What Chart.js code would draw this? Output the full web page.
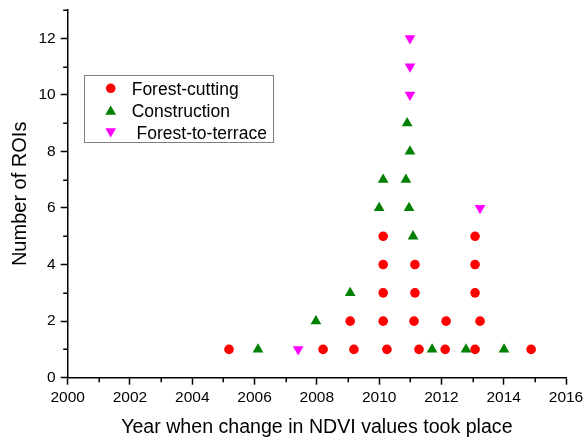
<!DOCTYPE html>
<html>
<head>
<meta charset="utf-8">
<script src="https://cdn.jsdelivr.net/npm/chart.js@4/dist/chart.umd.min.js"></script>
<style>
  html, body { margin: 0; padding: 0; background: #fff; }
  canvas { display: block; }
</style>
</head>
<body>
<canvas id="chart" width="584" height="441"></canvas>
<script>
// Year in which the NDVI change was detected, and how many ROIs it applies to
const forestCuttingYears  = [2005.18, 2008.20, 2009.19, 2010.25, 2011.28, 2012.12, 2013.08, 2014.88,
                             2009.07, 2010.13, 2011.12, 2012.15, 2013.24,
                             2010.13, 2011.15, 2013.08,
                             2010.13, 2011.15, 2013.08,
                             2010.13, 2013.08];
const forestCuttingCounts = [1, 1, 1, 1, 1, 1, 1, 1,
                             2, 2, 2, 2, 2,
                             3, 3, 3,
                             4, 4, 4,
                             5, 5];

const constructionYears  = [2006.11, 2011.70, 2012.79, 2014.01, 2007.97, 2009.07, 2011.09,
                            2010.00, 2010.96, 2010.13, 2010.86, 2010.99, 2010.90];
const constructionCounts = [1, 1, 1, 1, 2, 3, 5, 6, 6, 7, 7, 8, 9];

const terraceYears  = [2007.40, 2013.24, 2010.99, 2010.99, 2010.99];
const terraceCounts = [1, 6, 10, 11, 12];

const seriesLabels = ['Forest-cutting', 'Construction', ' Forest-to-terrace'];
const xAxisTitle = 'Year when change in NDVI values took place';
const yAxisTitle = 'Number of ROIs';

const FONT = "'Liberation Sans', Arial, sans-serif";

const toPoints = (xs, ys) => xs.map((x, i) => ({ x, y: ys[i] }));

// Short unlabelled ticks at the odd values of both axes
const minorTicks = {
  id: 'minorTicks',
  afterDraw(chart) {
    const { ctx, scales: { x, y } } = chart;
    ctx.save();
    ctx.strokeStyle = '#000';
    ctx.lineWidth = 1.5;
    ctx.beginPath();
    for (let v = x.min + 1; v < x.max; v += 2) {
      const px = Math.round(x.getPixelForValue(v)) + 0.25;
      ctx.moveTo(px, x.top);
      ctx.lineTo(px, x.top + 4.5);
    }
    for (let v = y.min + 1; v <= y.max; v += 2) {
      const py = Math.round(y.getPixelForValue(v)) + 0.25;
      ctx.moveTo(y.right, py);
      ctx.lineTo(y.right - 4.5, py);
    }
    ctx.stroke();
    ctx.restore();
  }
};

function drawMarker(ctx, style, radius, rotation, x, y) {
  ctx.beginPath();
  if (style === 'circle') {
    ctx.arc(x, y, radius, 0, Math.PI * 2);
  } else {
    let rad = rotation * Math.PI / 180;
    ctx.moveTo(x + Math.sin(rad) * radius, y - Math.cos(rad) * radius);
    rad += 2 * Math.PI / 3;
    ctx.lineTo(x + Math.sin(rad) * radius, y - Math.cos(rad) * radius);
    rad += 2 * Math.PI / 3;
    ctx.lineTo(x + Math.sin(rad) * radius, y - Math.cos(rad) * radius);
    ctx.closePath();
  }
  ctx.fill();
}

// Boxed legend placed inside the plot area, upper left
const insetLegend = {
  id: 'insetLegend',
  afterDraw(chart) {
    const { ctx } = chart;
    const box = { left: 84.5, top: 75.5, width: 189, height: 67 };
    ctx.save();
    ctx.fillStyle = '#fff';
    ctx.fillRect(box.left, box.top, box.width, box.height);
    ctx.strokeStyle = '#7f7f7f';
    ctx.lineWidth = 1;
    ctx.strokeRect(box.left, box.top, box.width, box.height);
    ctx.font = '17.5px ' + FONT;
    ctx.textBaseline = 'alphabetic';
    ctx.textAlign = 'left';
    const rowCenters = [88.3, 110.5, 132.5];
    chart.data.datasets.forEach((ds, i) => {
      const cy = rowCenters[i];
      ctx.fillStyle = ds.backgroundColor;
      drawMarker(ctx, ds.pointStyle, ds.pointRadius, ds.pointRotation || 0, 110.7, cy + (ds.pointStyle === 'triangle' ? (ds.pointRotation ? -1.2 : 1.2) : 0));
      ctx.fillStyle = '#000';
      ctx.fillText(ds.label, 131.7, cy + 6.5);
    });
    ctx.restore();
  }
};

new Chart(document.getElementById('chart'), {
  type: 'scatter',
  data: {
    datasets: [
      {
        label: seriesLabels[0],
        data: toPoints(forestCuttingYears, forestCuttingCounts),
        pointStyle: 'circle',
        pointRadius: 4.8,
        backgroundColor: '#ff0000',
        borderWidth: 0
      },
      {
        label: seriesLabels[1],
        data: toPoints(constructionYears, constructionCounts),
        pointStyle: 'triangle',
        pointRadius: 6.2,
        backgroundColor: '#008000',
        borderWidth: 0
      },
      {
        label: seriesLabels[2],
        data: toPoints(terraceYears, terraceCounts),
        pointStyle: 'triangle',
        pointRotation: 180,
        pointRadius: 6.2,
        backgroundColor: '#ff00ff',
        borderWidth: 0
      }
    ]
  },
  options: {
    responsive: false,
    animation: false,
    events: [],
    layout: { padding: { left: 0, top: 10, right: 18, bottom: 0 } },
    plugins: {
      legend: { display: false },
      tooltip: { enabled: false }
    },
    scales: {
      x: {
        type: 'linear',
        min: 2000,
        max: 2016,
        afterFit(scale) {
          scale.height = 63.3;
          scale.paddingLeft = 0;
          scale.paddingRight = 0;
        },
        border: { display: true, color: '#000', width: 1.5 },
        grid: {
          drawOnChartArea: false,
          drawTicks: true,
          tickLength: 7,
          tickWidth: 1.5,
          tickColor: (c) => (c.tick && c.tick.value % 2 === 0) ? '#000' : 'rgba(0,0,0,0)'
        },
        ticks: {
          stepSize: 1,
          autoSkip: false,
          maxRotation: 0,
          padding: 4,
          color: '#000',
          font: { family: FONT, size: 15.5 },
          callback: (v) => (v % 2 === 0 ? String(v) : '')
        },
        title: {
          display: true,
          text: xAxisTitle,
          color: '#000',
          font: { family: FONT, size: 19.6 },
          padding: { top: 0, bottom: 2 }
        }
      },
      y: {
        type: 'linear',
        min: 0,
        max: 13,
        afterFit(scale) {
          scale.width = 67.7;
          scale.paddingTop = 0;
          scale.paddingBottom = 0;
        },
        border: { display: true, color: '#000', width: 1.5 },
        grid: {
          drawOnChartArea: false,
          drawTicks: true,
          tickLength: 7,
          tickWidth: 1.5,
          tickColor: (c) => (c.tick && c.tick.value % 2 === 0) ? '#000' : 'rgba(0,0,0,0)'
        },
        ticks: {
          stepSize: 1,
          autoSkip: false,
          padding: 5,
          color: '#000',
          font: { family: FONT, size: 15.5 },
          callback: (v) => (v % 2 === 0 ? String(v) : '')
        },
        title: {
          display: true,
          text: yAxisTitle,
          color: '#000',
          font: { family: FONT, size: 20 },
          padding: { top: 8.5, bottom: 0 }
        }
      }
    }
  },
  plugins: [minorTicks, insetLegend]
});
</script>
</body>
</html>
